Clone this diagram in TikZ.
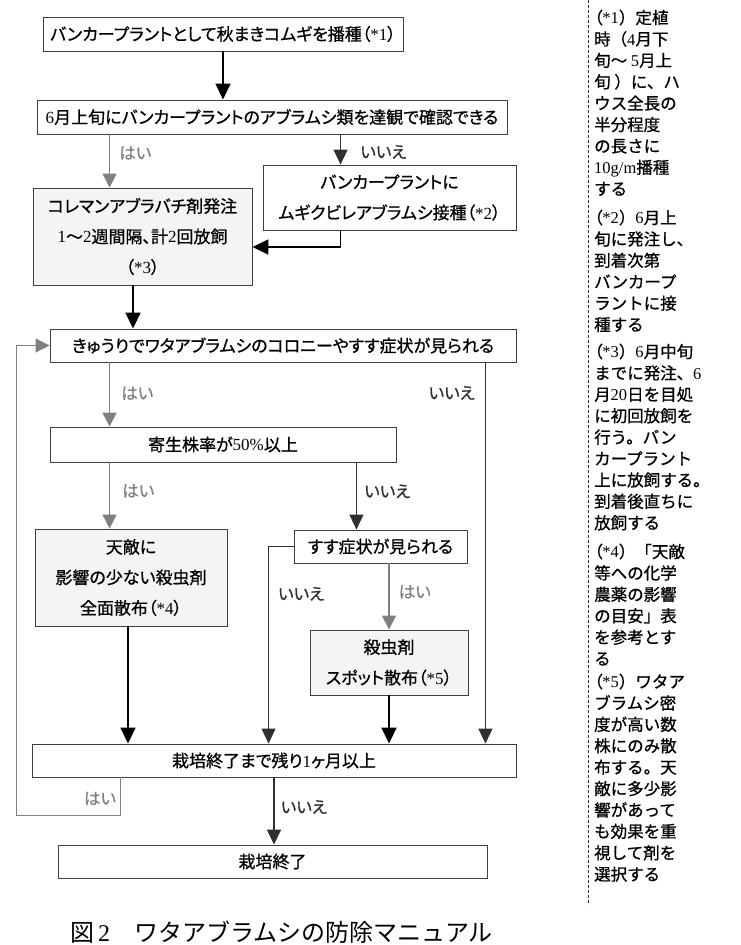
\documentclass[tikz,border=0pt]{standalone}
\usepackage{fontspec}
\usepackage{tikz}
\usetikzlibrary{arrows.meta}
\newfontfamily\jpfont[RawFeature=+palt, RawFeature={embolden=0.8}]{Noto Sans CJK JP}
\newfontfamily\jpplain[RawFeature={embolden=0.8}]{Noto Sans CJK JP}
\newfontfamily\jpcap{Noto Sans CJK JP}
\newfontfamily\latn{Liberation Serif}
\definecolor{linegray}{HTML}{808080}
\definecolor{linedark}{HTML}{303030}
\definecolor{boxgray}{HTML}{F4F4F4}
\tikzstyle{box} = [rectangle, inner sep=0pt, align=center, draw=black!75, line width=0.9pt, font=\jpfont\fontsize{17}{30.5}\selectfont]
\tikzstyle{greybox} = [box, fill=boxgray]
\tikzstyle{note} = [anchor=north west, align=left, inner sep=0pt, font=\jpplain\fontsize{16.5}{21.4}\selectfont]
\tikzstyle{arrow} = [line width=1.8pt, -{Triangle[width=15pt,length=16pt]}]
\tikzstyle{yesarrow} = [line width=1.5pt, draw=linegray, -{Triangle[width=14pt,length=14pt]}]
\tikzstyle{noarrow} = [line width=1.5pt, draw=linedark, -{Triangle[width=14pt,length=15pt]}]
\tikzstyle{yes} = [inner sep=0pt, text=linegray, font=\jpfont\fontsize{16.5}{20}\selectfont]
\tikzstyle{no} = [inner sep=0pt, text=linedark, font=\jpfont\fontsize{16.5}{20}\selectfont]
\newcommand{\openp}{{\jpfont （}}

\begin{document}
\begin{tikzpicture}[x=1pt, y=-1pt]
	\useasboundingbox (0,0) rectangle (740,945);
	% flow chart
	\node (n0) [box, minimum width=360pt, minimum height=34pt] at (223,34) {バンカープラントとして秋まきコムギを播種（{\latn *1}）};
	\node (n1) [box, minimum width=470pt, minimum height=34pt] at (272,117) {{\latn 6}月上旬にバンカープラントのアブラムシ類を達観で確認できる};
	\node (n2) [greybox, minimum width=219pt, minimum height=97pt] at (142.5,236.5) {コレマンアブラバチ剤発注\\{\latn 1}〜{\latn 2}週間隔、計{\latn 2}回放飼\\（{\latn *3}）};
	\node (n3) [box, minimum width=253pt, minimum height=65pt] at (389.5,197.5) {バンカープラントに\\ムギクビレアブラムシ接種（{\latn *2}）};
	\node (n4) [box, minimum width=466pt, minimum height=33pt] at (283,345.5) {きゅうりでワタアブラムシのコロニーやすす症状が見られる};
	\node (n5) [box, minimum width=346pt, minimum height=35pt] at (223,444.5) {寄生株率が{\latn 50\%}以上};
	\node (n6) [greybox, minimum width=192pt, minimum height=97pt] at (131,577.5) {天敵に\\影響の少ない殺虫剤\\全面散布（{\latn *4}）};
	\node (n7) [box, minimum width=173pt, minimum height=33pt] at (380.5,546.5) {すす症状が見られる};
	\node (n8) [greybox, minimum width=158pt, minimum height=65pt] at (389,662.5) {殺虫剤\\スポット散布（{\latn *5}）};
	\node (n9) [box, minimum width=484pt, minimum height=33pt] at (274,760.5) {栽培終了まで残り{\latn 1}ヶ月以上};
	\node (n10) [box, minimum width=429pt, minimum height=33pt] at (272.5,861.5) {栽培終了};
	\coordinate (c0) at (16,815);

	\draw [arrow] (n0.south) -- (n0.south |- n1.north);
	\draw [yesarrow] ([xshift=73pt]n1.south west) -- node[yes, pos=.35, right=9pt] {はい} ([xshift=73pt]n1.south west |- n2.north);
	\draw [noarrow] ([xshift=78pt]n3.north west |- n1.south) -- node[no, pos=.58, right=19pt] {いいえ} ([xshift=78pt]n3.north west);
	\draw [arrow] ([xshift=78pt]n3.south west) |- ([yshift=-10.5pt]n2.east);
	\draw [arrow] ([xshift=-9.5pt]n2.south) -- ([xshift=-9.5pt]n2.south |- n4.north);
	\draw [yesarrow] ([xshift=60pt]n4.south west) -- node[yes, pos=.48, right=11pt] {はい} ([xshift=60pt]n4.south west |- n5.north);
	\draw [noarrow] ([xshift=-31pt]n4.south east) -- node[no, pos=.08, left=10pt] {いいえ} ([xshift=-31pt]n4.south east |- n9.north);
	\draw [yesarrow] ([xshift=60pt]n5.south west) -- node[yes, pos=.43, right=12pt] {はい} ([xshift=60pt]n5.south west |- n6.north);
	\draw [noarrow] ([xshift=-40pt]n5.south east) -- node[no, pos=.43, right=7pt] {いいえ} ([xshift=-40pt]n5.south east |- n7.north);
	\draw [arrow] ([xshift=-3pt]n6.south) -- ([xshift=-3pt]n6.south |- n9.north);
	\draw [noarrow, line width=1pt] (n7.west) -| node[no, pos=.62, right=9pt] {いいえ} ([xshift=237pt]n9.north west);
	\draw [yesarrow] (n8.north |- n7.south) -- node[yes, pos=.43, right=9pt] {はい} (n8.north);
	\draw [arrow] (n8.south) -- (n8.south |- n9.north);
	\draw [yesarrow, line width=1pt] ([xshift=89pt]n9.south west) |- node[yes, pos=.28, left=4pt] {はい} (c0) |- (n4.west);
	\draw [noarrow] (n9.south) -- node[no, pos=.44, right=6pt] {いいえ} (n9.south |- n10.north);

	% notes
	\draw [linedark, line width=0.8pt, dash pattern=on 3pt off 2pt] (588,0) -- (588,905);
	\node (n11) [note] at (594,9.5) {\openp{\latn *1}）定植\\時（{\latn 4}月下\\旬〜 {\latn 5}月上\\旬 ）に、ハ\\ウス全長の\\半分程度\\の長さに\\{\latn 10g/m}播種\\する};
	\node (n12) [note] at (594,209.5) {\openp{\latn *2}）{\latn 6}月上\\旬に発注し、\\到着次第\\バンカープ\\ラントに接\\種する};
	\node (n13) [note] at (594,343.5) {\openp{\latn *3}）{\latn 6}月中旬\\までに発注、{\latn 6}\\月{\latn 20}日を目処\\に初回放飼を\\行う。バン\\カープラント\\上に放飼する。\\到着後直ちに\\放飼する};
	\node (n14) [note] at (594,543.5) {\openp{\latn *4}）「天敵\\等への化学\\農薬の影響\\の目安」表\\を参考とす\\る};
	\node (n15) [note] at (594,673.5) {\openp{\latn *5}）ワタア\\ブラムシ密\\度が高い数\\株にのみ散\\布する。天\\敵に多少影\\響があって\\も効果を重\\視して剤を\\選択する};

	% caption
	\node (n16) [anchor=west, inner sep=0pt, font=\jpcap\fontsize{24}{24}\selectfont] at (70,932) {図{\latn\,2}　ワタアブラムシの防除マニュアル};
\end{tikzpicture}
\end{document}
